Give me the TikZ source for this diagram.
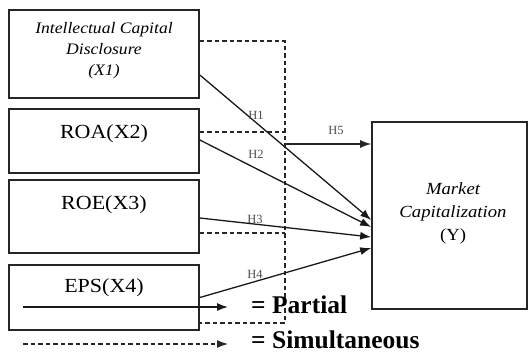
\documentclass[tikz,border=0pt]{standalone}
\usepackage{fontspec}
\usepackage{graphicx}
\setmainfont{Liberation Serif}
\usetikzlibrary{arrows.meta}
\newcommand{\sx}[1]{\scalebox{1.1}[1]{#1}}
\begin{document}
\begin{tikzpicture}[x=1pt,y=-1pt,
  box/.style={draw,line width=1.7pt,draw=black!85,inner sep=0pt},
  conn/.style={line width=1.3pt,draw=black!90,-{Latex[length=11pt,width=8pt]}},
  simline/.style={line width=1.1pt,draw=black!85,dash pattern=on 4.5pt off 3pt},
  h5line/.style={line width=1.1pt,draw=black!85,-{Latex[length=11pt,width=8pt]}},
  hlab/.style={font=\fontsize{12.5}{13}\selectfont,text=black!70,inner sep=0pt},
  blab/.style={font=\fontsize{20}{22}\selectfont,inner sep=0pt},
  ilab/.style={font=\itshape\fontsize{16}{21}\selectfont,align=center,inner sep=0pt},
  leg/.style={font=\bfseries\fontsize{25.5}{27}\selectfont,anchor=west,inner sep=0pt}]
\useasboundingbox (0,0) rectangle (528,354);
% boxes
\node[box,minimum width=190pt,minimum height=88pt] (x1) at (104,54) {};
\node[box,minimum width=190pt,minimum height=64pt] (x2) at (104,141) {};
\node[box,minimum width=190pt,minimum height=73pt] (x3) at (104,216.5) {};
\node[box,minimum width=190pt,minimum height=65pt] (x4) at (104,297.5) {};
\node[box,minimum width=155pt,minimum height=187pt] (y) at (449.5,215.5) {};
% box texts
\node[ilab] (t1) at (104,51) {\sx{Intellectual Capital}\\\sx{Disclosure}\\\sx{(X1)}};
\node[blab] (t2) at (104,134) {\sx{ROA(X2)}};
\node[blab] (t3) at (104,205) {\sx{ROE(X3)}};
\node[blab] (t4) at (104,288) {\sx{EPS(X4)}};
\node[ilab,font=\itshape\fontsize{17}{23}\selectfont] (ty) at (453,213) {\sx{Market}\\\sx{Capitalization}\\\sx{\upshape(Y)}};
% simultaneous dashed lines
\coordinate (dtop) at (285,41);
\coordinate (dbot) at (285,323);
\coordinate (d2) at (285,132);
\coordinate (d3) at (285,233);
\coordinate (d5) at (285,144);
\draw[simline] ([yshift=13pt]x1.east) -- (dtop) -- (dbot) -- ([yshift=-25.5pt]x4.east);
\draw[simline] ([yshift=9pt]x2.east) -- (d2);
\draw[simline] ([yshift=-16.5pt]x3.east) -- (d3);
\draw[h5line] (d5) -- ([yshift=71.5pt]y.west);
% partial arrows
\draw[conn] ([yshift=-21pt]x1.east) -- ([yshift=-4.5pt]y.west);
\draw[conn] ([yshift=1pt]x2.east) -- ([yshift=-11.5pt]y.west);
\draw[conn] ([yshift=-1.5pt]x3.east) -- ([yshift=-21.5pt]y.west);
\draw[conn] (x4.east) -- ([yshift=-32.5pt]y.west);
% hypothesis labels
\node[hlab] (h1) at (256,115) {H1};
\node[hlab] (h2) at (256,154) {H2};
\node[hlab] (h3) at (255,219) {H3};
\node[hlab] (h4) at (255,274) {H4};
\node[hlab] (h5) at (336,130) {H5};
% legend
\coordinate (la1) at (23,307);
\coordinate (la2) at (228,307);
\coordinate (lb1) at (23,344);
\coordinate (lb2) at (228,344);
\draw[conn] (la1) -- (la2);
\draw[simline,-{Latex[length=11pt,width=8pt]}] (lb1) -- (lb2);
\node[leg] (lp) at (251,305) {= Partial};
\node[leg] (ls) at (251,339.5) {= Simultaneous};
\end{tikzpicture}
\end{document}
